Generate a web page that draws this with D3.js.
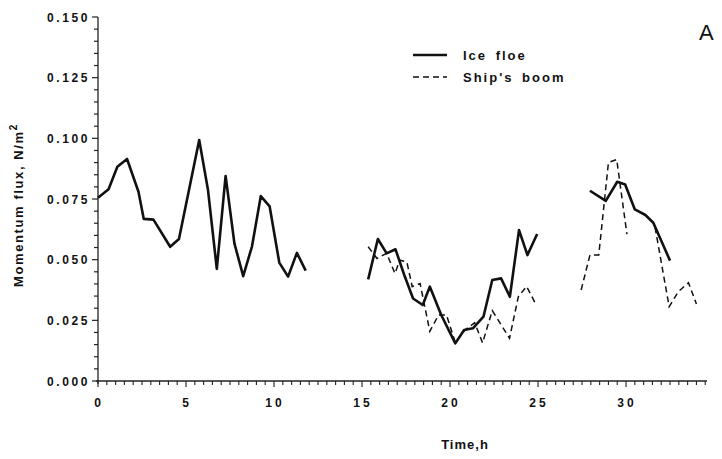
<!DOCTYPE html>
<html><head><meta charset="utf-8">
<script src="https://cdn.jsdelivr.net/npm/d3@7"></script>
<style>
html,body{margin:0;padding:0;background:#fff;}
svg{display:block;}
text{font-family:"Liberation Sans",Arial,sans-serif;fill:#111;}
</style></head>
<body>
<svg id="chart" width="722" height="459"></svg>
<script>
// ---- data (time in hours, momentum flux in N/m^2); null = gap ----
const iceTime = [0,0.6,1.1,1.65,2.3,2.6,3.15,4.1,4.6,5.75,6.25,6.75,7.25,7.75,8.25,8.75,9.25,9.75,10.3,10.8,11.3,11.8,
  null,
  15.35,15.9,16.4,16.9,17.4,17.9,18.45,18.85,19.5,20.3,20.8,21.3,21.9,22.4,22.9,23.4,23.92,24.4,24.95,
  null,
  27.95,28.85,29.5,29.95,30.5,31.1,31.55,32.5];
const iceFlux = [0.0755,0.079,0.0883,0.0915,0.078,0.0668,0.0665,0.0553,0.0585,0.0993,0.0787,0.0462,0.0845,0.0567,0.0432,0.0555,0.0762,0.072,0.0488,0.043,0.0528,0.0455,
  null,
  0.0419,0.0585,0.0526,0.0543,0.0437,0.034,0.0313,0.0389,0.0272,0.0155,0.021,0.0217,0.0265,0.0416,0.0423,0.0347,0.0622,0.0519,0.0606,
  null,
  0.0784,0.0742,0.0821,0.081,0.0707,0.0684,0.0652,0.0496];

const boomTime = [15.35,15.85,16.4,16.87,17.15,17.55,17.85,18.3,18.85,19.35,19.8,20.3,20.85,21.4,21.85,22.4,23.38,23.88,24.35,24.9,
  null,
  27.45,27.95,28.45,29.0,29.47,30.05,
  null,
  31.65,32.45,32.97,33.55,34.0];
const boomFlux = [0.0553,0.0505,0.0526,0.0443,0.0498,0.049,0.0389,0.0402,0.0205,0.0272,0.0272,0.0158,0.021,0.024,0.0157,0.029,0.0176,0.0347,0.039,0.0313,
  null,
  0.0375,0.0519,0.0519,0.09,0.0913,0.0605,
  null,
  0.0633,0.0306,0.0368,0.0405,0.0317];

const yTickValues = [0,0.025,0.05,0.075,0.1,0.125,0.15];
const xTickValues = [0,5,10,15,20,25,30];
const seriesNames = ["Ice floe","Ship's boom"];

// ---- chart ----
const svg = d3.select("#chart");
const x = d3.scaleLinear().domain([0,34.6]).range([98,707]);
const y = d3.scaleLinear().domain([0,0.15]).range([381,17]);

// axes lines
svg.append("line").attr("x1",x(0)).attr("x2",x(0)).attr("y1",y(0.15)).attr("y2",y(0)+3)
  .attr("stroke","#222").attr("stroke-width",1.3);
svg.append("line").attr("x1",x(0)-2).attr("x2",x(34.6)).attr("y1",y(0)).attr("y2",y(0))
  .attr("stroke","#222").attr("stroke-width",1.3);

// y minor ticks
d3.range(0,0.1501,0.005).forEach(v=>{
  const major = Math.abs(Math.round(v/0.025)*0.025 - v) < 1e-9;
  svg.append("line").attr("x1",x(0)).attr("x2",x(0)-(major?6:4))
    .attr("y1",y(v)).attr("y2",y(v)).attr("stroke","#222").attr("stroke-width",1.2);
});
// x minor ticks
d3.range(0,34.51,0.5).forEach(t=>{
  const major = Math.abs(t%5) < 1e-9;
  svg.append("line").attr("x1",x(t)).attr("x2",x(t))
    .attr("y1",y(0)).attr("y2",y(0)+(major?6:4)).attr("stroke","#222").attr("stroke-width",1.1);
});

// y tick labels
const fmt = d3.format(".3f");
svg.selectAll(".ylab").data(yTickValues).enter().append("text")
  .attr("x",x(0)-8).attr("y",d=>y(d)+4.5)
  .attr("text-anchor","end").attr("font-size",12).attr("font-weight","bold")
  .attr("letter-spacing","2.6px")
  .text(d=>fmt(d));
// x tick labels
svg.selectAll(".xlab").data(xTickValues).enter().append("text")
  .attr("x",d=>x(d)+1).attr("y",y(0)+26)
  .attr("text-anchor","middle").attr("font-size",12).attr("font-weight","bold")
  .attr("letter-spacing","3px")
  .text(d=>d);

// axis titles
svg.append("text").attr("x",465).attr("y",449).attr("text-anchor","middle")
  .attr("font-size",13).attr("font-weight","bold").attr("letter-spacing","1px").text("Time,h");
const yl = svg.append("text").attr("transform","translate(23,205) rotate(-90)")
  .attr("text-anchor","middle").attr("font-size",13).attr("font-weight","bold").attr("letter-spacing","1.6px");
yl.append("tspan").text("Momentum flux, N/m");
yl.append("tspan").attr("dy",-6).attr("font-size",10).text("2");

// lines
const makeLine = (ts,vs)=> d3.line().defined(i=>ts[i]!==null && vs[i]!==null)
  .x(i=>x(ts[i])).y(i=>y(vs[i]));
svg.append("path").attr("d",makeLine(iceTime,iceFlux)(d3.range(iceTime.length)))
  .attr("fill","none").attr("stroke","#111").attr("stroke-width",2.6).attr("stroke-linejoin","round");
svg.append("path").attr("d",makeLine(boomTime,boomFlux)(d3.range(boomTime.length)))
  .attr("fill","none").attr("stroke","#111").attr("stroke-width",1.5).attr("stroke-dasharray","6,4");

// legend
const lg = svg.append("g");
lg.append("line").attr("x1",413).attr("x2",447).attr("y1",55).attr("y2",55).attr("stroke","#111").attr("stroke-width",2.4);
lg.append("line").attr("x1",413).attr("x2",447).attr("y1",77).attr("y2",77).attr("stroke","#111").attr("stroke-width",1.4).attr("stroke-dasharray","6,4");
lg.append("text").attr("x",463).attr("y",60).attr("font-size",13).attr("font-weight","bold")
  .attr("letter-spacing","2px").attr("word-spacing","3px").text(seriesNames[0]);
lg.append("text").attr("x",463).attr("y",82).attr("font-size",13).attr("font-weight","bold")
  .attr("letter-spacing","2px").attr("word-spacing","3px").text(seriesNames[1]);

// panel letter
svg.append("text").attr("x",699).attr("y",40).attr("font-size",22).text("A");
</script>
</body></html>
